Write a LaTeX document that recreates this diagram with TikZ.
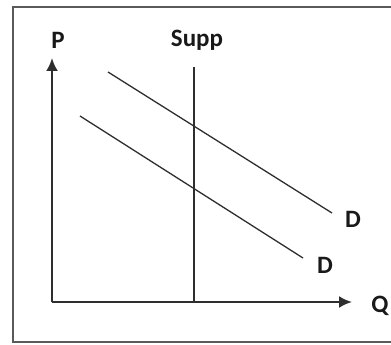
\documentclass[tikz,border=0pt]{standalone}
\usepackage{fontspec}
\setmainfont{Carlito}
\usetikzlibrary{arrows.meta}
\definecolor{FrameGray}{HTML}{5A5A5A}
\definecolor{LineGray}{HTML}{2E2E2E}

\begin{document}
\begin{tikzpicture}[x=1pt,y=-1pt,
  axis/.style={LineGray,line width=2.2pt,-{Latex[length=13pt,width=12pt]}},
  curve/.style={LineGray,line width=1.3pt},
  lbl/.style={inner sep=0pt,text=black!90,font=\fontsize{25}{27}\selectfont\bfseries}]
\path[use as bounding box] (0,0) rectangle (391,345);
\clip (0,0) rectangle (391,345);
\draw[FrameGray,line width=2pt] (13,7) rectangle (400,342);
% axes
\coordinate (O) at (52,302);
\coordinate (Ptop) at (52,58);
\coordinate (Qend) at (352,302);
\draw[axis] (O) -- (Ptop);
\draw[axis] (O) -- (Qend);
\node[lbl] (P) at (58,40) {P};
\node[lbl] (Q) at (380,306) {Q};
% supply
\node[lbl] (Supp) at (197,40) {Supp};
\coordinate (S0) at (194,67);
\coordinate (S1) at (194,302);
\draw[curve,line width=1.1pt] (S0) -- (S1);
% demand
\coordinate (A0) at (108,72);
\coordinate (A1) at (332,213);
\coordinate (B0) at (80,116);
\coordinate (B1) at (303,258);
\draw[curve] (A0) -- (A1);
\draw[curve] (B0) -- (B1);
\node[lbl] (D1) at (353,219) {D};
\node[lbl] (D2) at (325,265) {D};
\end{tikzpicture}
\end{document}
